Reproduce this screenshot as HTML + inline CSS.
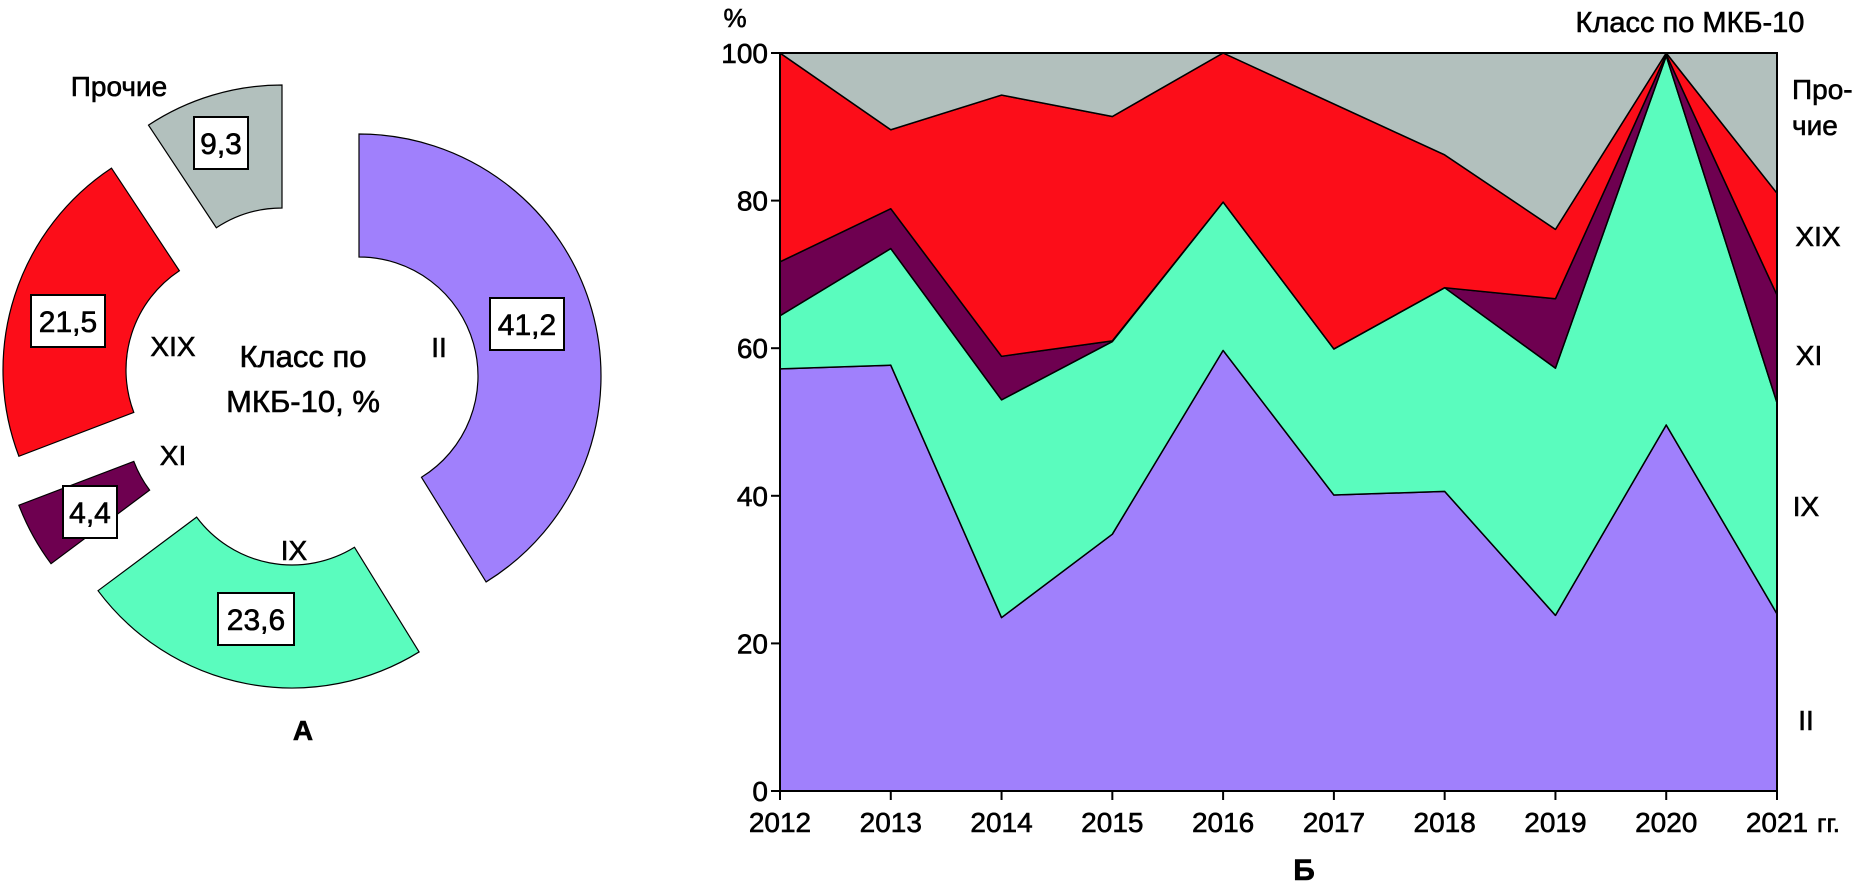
<!DOCTYPE html>
<html><head><meta charset="utf-8"><style>
html,body{margin:0;padding:0;background:#fff;}
svg{display:block;font-family:"Liberation Sans",Arial,sans-serif;}
text{stroke:#000;stroke-width:0.6px;}
</style></head><body>
<svg id="fig" width="1862" height="888" viewBox="0 0 1862 888" xmlns="http://www.w3.org/2000/svg">
  <g id="donut"></g>
  <g id="area"></g>
</svg>
<script>
// ---- Donut data (panel A) ----
const donutClasses = ["II", "IX", "XI", "XIX", "Прочие"];
const donutValues = [41.2, 23.6, 4.4, 21.5, 9.3];
const donutValueLabels = ["41,2", "23,6", "4,4", "21,5", "9,3"];

// ---- Stacked area data (panel Б) ----
const years = ["2012","2013","2014","2015","2016","2017","2018","2019","2020","2021"];
const seriesII = [57.2, 57.7, 23.5, 34.8, 59.7, 40.1, 40.6, 23.8, 49.6, 24.0];
const seriesIX = [7.2, 15.8, 29.5, 26.1, 20.1, 19.8, 27.6, 33.5, 50.0, 28.6];
const seriesXI = [7.3, 5.4, 5.9, 0.1, 0.0, 0.0, 0.0, 9.4, 0.2, 14.6];
const seriesXIX = [28.3, 10.7, 35.4, 30.4, 20.2, 33.2, 18.0, 9.4, 0.2, 13.8];
const seriesOther = [0.0, 10.4, 5.7, 8.6, 0.0, 6.9, 13.8, 23.9, 0.0, 19.0];
const yTicks = [0, 20, 40, 60, 80, 100];

const NS = "http://www.w3.org/2000/svg";
function mk(tag, attrs, parent, text) {
  const e = document.createElementNS(NS, tag);
  for (const k in attrs) e.setAttribute(k, attrs[k]);
  if (text !== undefined) e.textContent = text;
  parent.appendChild(e);
  return e;
}
const colors = ["#a080fc", "#5afcbe", "#6e0050", "#fc0d19", "#b2c0bd"];

// ---------- Donut ----------
const dg = document.getElementById("donut");
const centers = [[359,376],[292,446],[245,419],[245,370],[282,327]];
const R = 242, r = 119;
const total = donutValues.reduce((a,b)=>a+b,0);
let acc = 0;
function pt(c, rad, a) { return [c[0] + rad*Math.sin(a), c[1] - rad*Math.cos(a)]; }
donutValues.forEach((v, i) => {
  const a0 = acc / total * 2*Math.PI; acc += v;
  const a1 = acc / total * 2*Math.PI;
  const c = centers[i];
  const p1 = pt(c,R,a0), p2 = pt(c,R,a1), p3 = pt(c,r,a1), p4 = pt(c,r,a0);
  const large = (a1-a0) > Math.PI ? 1 : 0;
  const d = `M${p1[0]},${p1[1]} A${R},${R} 0 ${large} 1 ${p2[0]},${p2[1]} L${p3[0]},${p3[1]} A${r},${r} 0 ${large} 0 ${p4[0]},${p4[1]} Z`;
  const s = mk("path", {d, fill: colors[i], stroke: "#000", "stroke-width": 1.2}, dg);
  
  
});
const boxes = [[527,324,74],[256,619,76],[90,512,54],[68,321,74],[221,143,54]];
boxes.forEach((b, i) => {
  const g = mk("g", {}, dg);
  
  
  mk("rect", {x: b[0]-b[2]/2, y: b[1]-26, width: b[2], height: 52, fill: "#fff", stroke: "#000", "stroke-width": 2}, g);
  mk("text", {x: b[0], y: b[1]+11, "text-anchor": "middle", "font-size": 30}, g, donutValueLabels[i]);
});
const dLabels = [["II",439,357],["IX",294,560],["XI",173,465],["XIX",173,356],["Прочие",119,96]];
dLabels.forEach((l, i) => {
  const t = mk("text", {x: l[1], y: l[2], "text-anchor": "middle", "font-size": 28}, dg, l[0]);
  
  
});
const ct1 = mk("text", {x: 303, y: 367, "text-anchor": "middle", "font-size": 31}, dg, "Класс по");


const ct2 = mk("text", {x: 303, y: 412, "text-anchor": "middle", "font-size": 31}, dg, "МКБ-10, %");


const pa = mk("text", {x: 303, y: 740, "text-anchor": "middle", "font-size": 28, "font-weight": "bold"}, dg, "А");



// ---------- Stacked area ----------
const ag = document.getElementById("area");
const X0 = 780, X1 = 1777, Y0 = 791, Y100 = 53;
const xs = i => X0 + (X1-X0) * i / (years.length-1);
const ys = v => Y0 - (Y0-Y100) * v / 100;
const series = [seriesII, seriesIX, seriesXI, seriesXIX, seriesOther];
const names = ["II","IX","XI","XIX","other"];
let base = years.map(()=>0);
series.forEach((s, k) => {
  const top = base.map((b, i) => b + s[i]);
  let d = "M" + years.map((_, i) => `${xs(i)},${ys(top[i])}`).join(" L");
  for (let i = years.length-1; i >= 0; i--) d += ` L${xs(i)},${ys(base[i])}`;
  d += " Z";
  const p = mk("path", {d, fill: colors[k], stroke: "#000", "stroke-width": 1.5, "stroke-linejoin": "round"}, ag);
  
  
  base = top;
});
mk("rect", {x: X0, y: Y100, width: X1-X0, height: Y0-Y100, fill: "none", stroke: "#000", "stroke-width": 2}, ag);
yTicks.forEach(v => {
  mk("line", {x1: X0-9, x2: X0, y1: ys(v), y2: ys(v), stroke: "#000", "stroke-width": 2}, ag);
  const t = mk("text", {x: X0-12, y: ys(v)+10, "text-anchor": "end", "font-size": 28}, ag, String(v));
  
  
});
years.forEach((y, i) => {
  mk("line", {x1: xs(i), x2: xs(i), y1: Y0, y2: Y0+9, stroke: "#000", "stroke-width": 2}, ag);
  const t = mk("text", {x: xs(i), y: Y0+41, "text-anchor": "middle", "font-size": 28}, ag, y);
  
  
});
const gg = mk("text", {x: X1+40, y: Y0+41, "font-size": 26}, ag, "гг.");


const pct = mk("text", {x: 735, y: 27, "text-anchor": "middle", "font-size": 26}, ag, "%");


const lt = mk("text", {x: 1690, y: 32, "text-anchor": "middle", "font-size": 29}, ag, "Класс по МКБ-10");


const rlStart = [["Про-",1792,99],["чие",1792,135]];
rlStart.forEach(l => {
  const t = mk("text", {x: l[1], y: l[2], "text-anchor": "start", "font-size": 28}, ag, l[0]);
  
  
});
const rl = [["XIX",1818,246],["XI",1809,365],["IX",1806,516],["II",1806,730]];
rl.forEach(l => {
  const t = mk("text", {x: l[1], y: l[2], "text-anchor": "middle", "font-size": 28}, ag, l[0]);
  
  
});
const pb = mk("text", {x: 1304, y: 880, "text-anchor": "middle", "font-size": 30, "font-weight": "bold"}, ag, "Б");


</script>
</body></html>
